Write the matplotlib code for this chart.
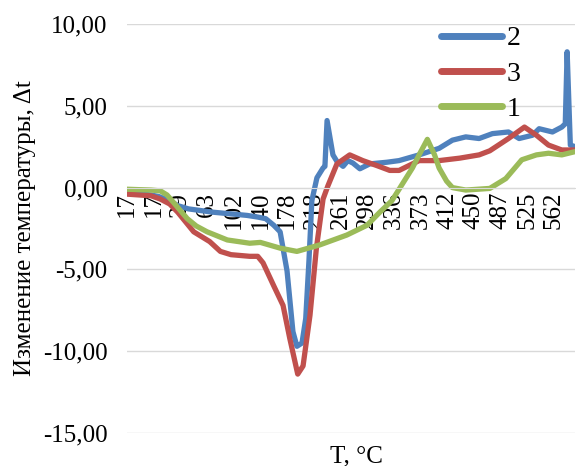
import numpy as np
import matplotlib
matplotlib.use("Agg")
import matplotlib.pyplot as plt
from matplotlib.ticker import FuncFormatter

plt.rcParams['font.family'] = ['Liberation Serif', 'DejaVu Serif']

# category axis labels (temperature, shown every 10th category)
t_labels = ['17', '17', '29', '63', '102', '140', '178', '218', '261',
            '298', '336', '373', '412', '450', '487', '525', '562']

# series 2 (blue): category index / value
idx2 = [0, 9, 12, 16, 19, 23, 32, 45, 49, 52, 55, 57.4, 60, 62.2, 63.7, 65.6,
        67, 68.2, 69.3, 71.2, 73.5, 74.2, 75, 77.2, 78.7, 81, 82.8, 84.7,
        87.3, 91, 97.4, 102, 109.5, 117, 122, 127, 132, 137, 143, 147, 152,
        154.5, 159.5, 163, 164.3, 165, 166.2, 168]
val2 = [-0.3, -0.45, -0.55, -0.8, -1.1, -1.3, -1.5, -1.7, -1.8, -1.9, -2.3, -2.7,
        -5.1, -8.8, -9.7, -9.5, -8.0, -4.5, -0.8, 0.6, 1.2, 1.3, 4.1, 2.0,
        1.6, 1.3, 1.65, 1.5, 1.15, 1.45, 1.55, 1.65, 2.0, 2.4, 2.9, 3.1, 3.0,
        3.3, 3.4, 3.0, 3.2, 3.6, 3.4, 3.7, 3.9, 8.3, 2.6, 2.5]

# series 3 (red)
idx3 = [0, 9, 12.5, 16, 19, 22, 25, 31, 35, 39, 46, 49, 51, 55, 58.5, 61, 64, 66,
        68.6, 71, 73.5, 75.3, 78.7, 83.5, 88.4, 93.6, 98.5, 102, 109.5, 117,
        124.7, 132, 136, 143, 149, 153.5, 158, 163, 168]
val3 = [-0.4, -0.5, -0.7, -1.0, -1.5, -2.1, -2.7, -3.3, -3.9, -4.1, -4.2, -4.2,
        -4.6, -6.0, -7.2, -9.2, -11.4, -10.9, -7.8, -3.7, -0.7, 0.1, 1.45, 2.0,
        1.65, 1.35, 1.05, 1.05, 1.65, 1.65, 1.8, 2.0, 2.25, 3.0, 3.7, 3.2, 2.6,
        2.3, 2.3]

# series 1 (green)
idx1 = [0, 9, 12.5, 15, 17.4, 22.6, 26, 30, 37.6, 46, 50, 57.4, 63.7, 72.3,
        82.4, 90, 94.8, 99.3, 102, 107, 109.5, 112.6, 115.3, 117, 119.8, 122,
        127, 136, 142, 148, 153.5, 158, 163, 168]
val1 = [-0.1, -0.15, -0.2, -0.45, -0.9, -1.9, -2.35, -2.7, -3.2, -3.4, -3.35,
        -3.7, -3.9, -3.5, -2.9, -2.3, -1.5, -0.8, -0.1, 1.2, 2.0, 2.95, 2.0,
        1.2, 0.4, 0.0, -0.15, -0.05, 0.55, 1.7, 2.0, 2.1, 2.0, 2.2]

fig = plt.figure(figsize=(5.76, 4.66), dpi=100)
ax = fig.add_axes([0.2205, 0.0708, 0.778, 0.8777])

# x axis crosses at zero, set before ticks (set_position resets them)
for s in ['top', 'right', 'left']:
    ax.spines[s].set_visible(False)
ax.spines['bottom'].set_position(('data', 0))
ax.spines['bottom'].set_color('#D9D9D9')

lw = 3.8
ax.plot(idx2, val2, color='#4F81BD', lw=lw, solid_capstyle='round', solid_joinstyle='round', label='2')
ax.plot(idx3, val3, color='#C0504D', lw=lw, solid_capstyle='round', solid_joinstyle='round', label='3')
ax.plot(idx1, val1, color='#9BBB59', lw=lw, solid_capstyle='round', solid_joinstyle='round', label='1')

ax.set_xlim(0, 168)
ax.set_ylim(-15, 10)
ax.set_yticks(np.arange(-15, 11, 5))
ax.yaxis.set_major_formatter(FuncFormatter(lambda v, p: ('%.2f' % v).replace('.', ',')))
ax.set_xticks(np.arange(len(t_labels)) * 10)
ax.set_xticklabels(t_labels)
ax.tick_params(axis='x', length=0, pad=3, labelsize=18, labelrotation=90)
ax.tick_params(axis='y', length=0, pad=14, labelsize=18)
for lab in ax.get_xticklabels():
    lab.set_va('top')
    lab.set_ha('center')

ax.grid(axis='y', color='#D9D9D9', lw=1)
ax.set_axisbelow(True)

leg = ax.legend(loc='upper left', bbox_to_anchor=(441 / 576, 1 - 26 / 466),
                bbox_transform=fig.transFigure, frameon=False, fontsize=20,
                handlelength=2.2, handletextpad=0.15, labelspacing=0.35,
                borderpad=0, borderaxespad=0)
for h in leg.get_lines():
    h.set_linewidth(5)

fig.text(25 / 576, 1 - 228 / 466, 'Изменение температуры, Δt', rotation=90,
         ha='center', va='center', fontsize=18)
fig.text(356 / 576, 1 - 456 / 466, 'T, °C', ha='center', va='center', fontsize=18)

fig.savefig('out.png', dpi=100)
